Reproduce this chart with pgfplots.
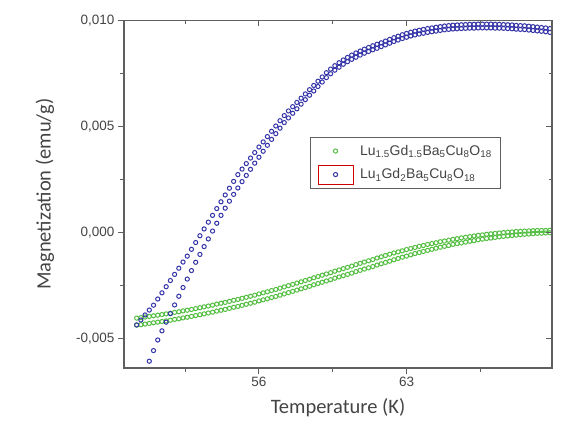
\documentclass[border=0pt]{standalone}
\usepackage{pgfplots}
\pgfplotsset{compat=1.18}
\usepackage{pgfplotstable}
\usepackage{fontspec}
\setmainfont{Liberation Sans}
\newfontfamily\labelfont{Carlito}
\definecolor{ublue}{RGB}{52,52,168}
\definecolor{ugreen}{RGB}{84,190,66}
\definecolor{axgray}{RGB}{95,95,95}
\definecolor{txtgray}{RGB}{68,68,68}

% Lu1.5Gd1.5Ba5Cu8O18 : two branches (upper then lower)
\pgfplotstableread{
T M
50.2 -0.00402
50.4 -0.00400
50.6 -0.00397
50.8 -0.00394
51.0 -0.00391
51.2 -0.00388
51.4 -0.00385
51.6 -0.00382
51.8 -0.00379
52.0 -0.00375
52.2 -0.00372
52.4 -0.00368
52.6 -0.00365
52.8 -0.00361
53.0 -0.00357
53.2 -0.00353
53.4 -0.00349
53.6 -0.00345
53.8 -0.00341
54.0 -0.00336
54.2 -0.00332
54.4 -0.00328
54.6 -0.00323
54.8 -0.00318
55.0 -0.00314
55.2 -0.00309
55.4 -0.00304
55.6 -0.00299
55.8 -0.00294
56.0 -0.00288
56.2 -0.00283
56.4 -0.00278
56.6 -0.00272
56.8 -0.00267
57.0 -0.00261
57.2 -0.00255
57.4 -0.00249
57.6 -0.00243
57.8 -0.00237
58.0 -0.00231
58.2 -0.00225
58.4 -0.00219
58.6 -0.00212
58.8 -0.00206
59.0 -0.00200
59.2 -0.00194
59.4 -0.00188
59.6 -0.00181
59.8 -0.00175
60.0 -0.00169
60.2 -0.00163
60.4 -0.00157
60.6 -0.00150
60.8 -0.00144
61.0 -0.00138
61.2 -0.00132
61.4 -0.00126
61.6 -0.00119
61.8 -0.00113
62.0 -0.00107
62.2 -0.00101
62.4 -0.00095
62.6 -0.00090
62.8 -0.00085
63.0 -0.00079
63.2 -0.00074
63.4 -0.00069
63.6 -0.00064
63.8 -0.00060
64.0 -0.00055
64.2 -0.00051
64.4 -0.00047
64.6 -0.00042
64.8 -0.00039
65.0 -0.00035
65.2 -0.00031
65.4 -0.00028
65.6 -0.00024
65.8 -0.00021
66.0 -0.00018
66.2 -0.00015
66.4 -0.00012
66.6 -0.00010
66.8 -0.00007
67.0 -0.00005
67.2 -0.00003
67.4 -0.00001
67.6 0.00001
67.8 0.00003
68.0 0.00004
68.2 0.00006
68.4 0.00007
68.6 0.00008
68.8 0.00009
69.0 0.00010
69.2 0.00011
69.4 0.00011
69.6 0.00011
69.8 0.00012
50.2 -0.00435
50.4 -0.00433
50.6 -0.00430
50.8 -0.00427
51.0 -0.00424
51.2 -0.00421
51.4 -0.00418
51.6 -0.00415
51.8 -0.00412
52.0 -0.00408
52.2 -0.00405
52.4 -0.00401
52.6 -0.00398
52.8 -0.00394
53.0 -0.00390
53.2 -0.00386
53.4 -0.00382
53.6 -0.00378
53.8 -0.00374
54.0 -0.00369
54.2 -0.00365
54.4 -0.00361
54.6 -0.00356
54.8 -0.00351
55.0 -0.00347
55.2 -0.00342
55.4 -0.00337
55.6 -0.00332
55.8 -0.00327
56.0 -0.00321
56.2 -0.00316
56.4 -0.00311
56.6 -0.00305
56.8 -0.00300
57.0 -0.00294
57.2 -0.00288
57.4 -0.00282
57.6 -0.00276
57.8 -0.00270
58.0 -0.00264
58.2 -0.00258
58.4 -0.00252
58.6 -0.00245
58.8 -0.00239
59.0 -0.00233
59.2 -0.00227
59.4 -0.00221
59.6 -0.00214
59.8 -0.00208
60.0 -0.00202
60.2 -0.00196
60.4 -0.00190
60.6 -0.00183
60.8 -0.00177
61.0 -0.00171
61.2 -0.00165
61.4 -0.00159
61.6 -0.00152
61.8 -0.00146
62.0 -0.00140
62.2 -0.00134
62.4 -0.00127
62.6 -0.00121
62.8 -0.00115
63.0 -0.00110
63.2 -0.00104
63.4 -0.00098
63.6 -0.00093
63.8 -0.00088
64.0 -0.00083
64.2 -0.00078
64.4 -0.00073
64.6 -0.00068
64.8 -0.00064
65.0 -0.00060
65.2 -0.00055
65.4 -0.00051
65.6 -0.00048
65.8 -0.00044
66.0 -0.00040
66.2 -0.00037
66.4 -0.00033
66.6 -0.00030
66.8 -0.00027
67.0 -0.00025
67.2 -0.00022
67.4 -0.00019
67.6 -0.00017
67.8 -0.00015
68.0 -0.00013
68.2 -0.00011
68.4 -0.00009
68.6 -0.00007
68.8 -0.00006
69.0 -0.00004
69.2 -0.00003
69.4 -0.00002
69.6 -0.00001
69.8 0.00000
}\greendata

% Lu1Gd2Ba5Cu8O18 : two branches
\pgfplotstableread{
T M
50.2 -0.00434
50.4 -0.00411
50.6 -0.00387
50.8 -0.00364
51.0 -0.00341
51.2 -0.00312
51.4 -0.00283
51.6 -0.00254
51.8 -0.00225
52.0 -0.00196
52.2 -0.00167
52.4 -0.00138
52.6 -0.00110
52.8 -0.00078
53.0 -0.00046
53.2 -0.00014
53.4 0.00018
53.6 0.00050
53.8 0.00082
54.0 0.00114
54.2 0.00146
54.4 0.00178
54.6 0.00210
54.8 0.00242
55.0 0.00274
55.2 0.00300
55.4 0.00326
55.6 0.00352
55.8 0.00378
56.0 0.00404
56.2 0.00428
56.4 0.00453
56.6 0.00478
56.8 0.00503
57.0 0.00528
57.2 0.00552
57.4 0.00574
57.6 0.00594
57.8 0.00614
58.0 0.00634
58.2 0.00654
58.4 0.00674
58.6 0.00694
58.8 0.00714
59.0 0.00734
59.2 0.00754
59.4 0.00771
59.6 0.00787
59.8 0.00801
60.0 0.00814
60.2 0.00826
60.4 0.00837
60.6 0.00847
60.8 0.00856
61.0 0.00865
61.2 0.00873
61.4 0.00881
61.6 0.00888
61.8 0.00895
62.0 0.00903
62.2 0.00911
62.4 0.00919
62.6 0.00926
62.8 0.00933
63.0 0.00939
63.2 0.00945
63.4 0.00950
63.6 0.00954
63.8 0.00958
64.0 0.00962
64.2 0.00965
64.4 0.00968
64.6 0.00971
64.8 0.00974
65.0 0.00976
65.2 0.00978
65.4 0.00979
65.6 0.00980
65.8 0.00981
66.0 0.00982
66.2 0.00982
66.4 0.00983
66.6 0.00983
66.8 0.00983
67.0 0.00983
67.2 0.00982
67.4 0.00982
67.6 0.00981
67.8 0.00980
68.0 0.00979
68.2 0.00977
68.4 0.00976
68.6 0.00975
68.8 0.00973
69.0 0.00971
69.2 0.00969
69.4 0.00967
69.6 0.00965
69.8 0.00962
50.2 -0.00763
50.4 -0.00710
50.6 -0.00658
50.8 -0.00605
51.0 -0.00555
51.2 -0.00505
51.4 -0.00462
51.6 -0.00421
51.8 -0.00381
52.0 -0.00340
52.2 -0.00299
52.4 -0.00258
52.6 -0.00218
52.8 -0.00178
53.0 -0.00139
53.2 -0.00102
53.4 -0.00065
53.6 -0.00029
53.8 0.00008
54.0 0.00045
54.2 0.00082
54.4 0.00116
54.6 0.00149
54.8 0.00181
55.0 0.00211
55.2 0.00241
55.4 0.00270
55.6 0.00299
55.8 0.00328
56.0 0.00356
56.2 0.00384
56.4 0.00412
56.6 0.00440
56.8 0.00467
57.0 0.00493
57.2 0.00519
57.4 0.00541
57.6 0.00563
57.8 0.00584
58.0 0.00606
58.2 0.00627
58.4 0.00648
58.6 0.00668
58.8 0.00689
59.0 0.00710
59.2 0.00731
59.4 0.00749
59.6 0.00766
59.8 0.00780
60.0 0.00794
60.2 0.00806
60.4 0.00817
60.6 0.00827
60.8 0.00837
61.0 0.00846
61.2 0.00854
61.4 0.00862
61.6 0.00869
61.8 0.00877
62.0 0.00885
62.2 0.00893
62.4 0.00901
62.6 0.00908
62.8 0.00915
63.0 0.00921
63.2 0.00927
63.4 0.00932
63.6 0.00936
63.8 0.00940
64.0 0.00944
64.2 0.00947
64.4 0.00950
64.6 0.00953
64.8 0.00956
65.0 0.00958
65.2 0.00960
65.4 0.00961
65.6 0.00962
65.8 0.00963
66.0 0.00964
66.2 0.00964
66.4 0.00965
66.6 0.00965
66.8 0.00965
67.0 0.00965
67.2 0.00964
67.4 0.00964
67.6 0.00963
67.8 0.00962
68.0 0.00961
68.2 0.00959
68.4 0.00958
68.6 0.00957
68.8 0.00955
69.0 0.00953
69.2 0.00951
69.4 0.00949
69.6 0.00947
69.8 0.00944
}\bluedata

\pgfplotsset{
  commonaxis/.style={
    at={(0,0)}, anchor=south west,
    scale only axis, width=428bp, height=347.5bp,
    xmin=49.6, xmax=69.9, ymin=-0.00637, ymax=0.0100,
    xtick={56,63}, minor xtick={52.5,59.5,66.5},
    ytick={-0.005,0,0.005,0.01}, minor ytick={-0.0025,0.0025,0.0075},
    scaled y ticks=false, scaled x ticks=false,
    axis line style={axgray, line width=1.3bp},
    every tick/.style={axgray, line width=1bp},
    major tick length=6bp, minor tick length=3.5bp,
  },
  plainleg/.style={legend image code/.code={\path[draw=none,fill=none] (0bp,-9.5bp) rectangle (40bp,9.5bp); \draw[##1] plot coordinates {(17.5bp,0bp)};}},
  redboxleg/.style={legend image code/.code={\path[draw=none,fill=none] (0bp,-9.5bp) rectangle (40bp,9.5bp); \draw[red!80!black, line width=1bp, fill=none] (0bp,-9.5bp) rectangle (35bp,9.5bp); \draw[##1] plot coordinates {(17.5bp,0bp)};}},
}

\begin{document}
\begin{tikzpicture}
\useasboundingbox (-124bp,-59bp) rectangle (444bp,368bp);
\begin{axis}[commonaxis,
    xtick pos=left, ytick pos=left, tick align=outside,
    ticklabel style={font=\fontsize{13.5bp}{16bp}\selectfont, text=txtgray},
    xticklabel style={/pgf/number format/assume math mode=true},
    yticklabel style={/pgf/number format/.cd, fixed, fixed zerofill, precision=3, use comma, assume math mode=true},
    xlabel={Temperature (K)}, ylabel={Magnetization (emu/g)},
    every axis x label/.style={at={(axis description cs:0.5,-0.1151)}, anchor=center, font=\labelfont\fontsize{20.5bp}{24bp}\selectfont, text=txtgray},
    every axis y label/.style={at={(axis description cs:-0.1846,0.5)}, anchor=center, rotate=90, font=\labelfont\fontsize{20.5bp}{24bp}\selectfont, text=txtgray},
    legend style={at={(axis description cs:0.4346,0.6647)}, anchor=north west,
      draw=axgray, line width=1.1bp, fill=white,
      font=\fontsize{14bp}{16bp}\selectfont, text=txtgray,
      inner xsep=7bp, inner ysep=4bp, row sep=4bp},
    legend cell align=left,
  ]
\addplot[only marks, mark=o, mark size=2.1bp, mark options={ugreen, line width=1bp}, plainleg]
  table[x=T, y=M] {\greendata};
\addlegendentry{Lu\textsubscript{1.5}Gd\textsubscript{1.5}Ba\textsubscript{5}Cu\textsubscript{8}O\textsubscript{18}}
\addplot[only marks, mark=o, mark size=2.1bp, mark options={ublue, line width=1bp}, redboxleg]
  table[x=T, y=M] {\bluedata};
\addlegendentry{Lu\textsubscript{1}Gd\textsubscript{2}Ba\textsubscript{5}Cu\textsubscript{8}O\textsubscript{18}}
\end{axis}
\begin{axis}[commonaxis,
    xtick pos=right, ytick pos=right, tick align=inside,
    xticklabels={}, yticklabels={},
  ]
\end{axis}
\end{tikzpicture}
\end{document}
